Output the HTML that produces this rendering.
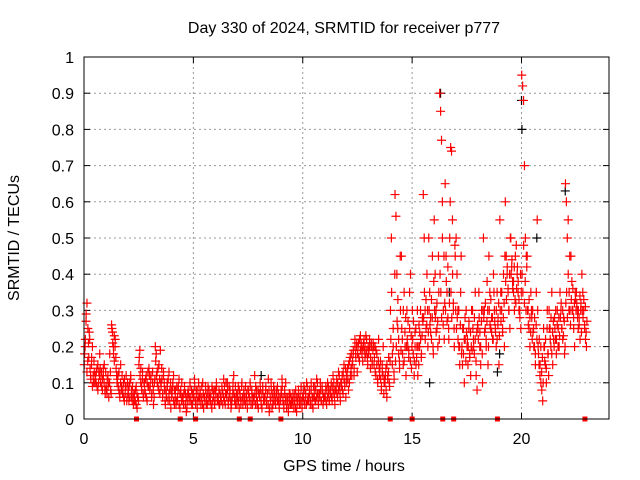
<!DOCTYPE html>
<html><head><meta charset="utf-8"><style>
body{margin:0;background:#fff;}
svg{display:block;font-family:"Liberation Sans",sans-serif;}
</style></head><body>
<svg id="chart" width="640" height="480">
<rect width="640" height="480" fill="#fff"/>
<text x="344" y="33" text-anchor="middle" font-size="16">Day 330 of 2024, SRMTID for receiver p777</text>
<text x="344" y="471" text-anchor="middle" font-size="16">GPS time / hours</text>
<text transform="translate(19,238) rotate(-90)" text-anchor="middle" font-size="16">SRMTID / TECUs</text>
<g id="grid"></g>
<g id="ticks"></g>
<g id="marks"></g>
<rect x="84" y="57" width="525" height="362" fill="none" stroke="#000" stroke-width="1"/>
</svg>
<script>
const xTicks=[0,5,10,15,20];
const yTicks=[0,0.1,0.2,0.3,0.4,0.5,0.6,0.7,0.8,0.9,1];
const yTickLabels=["0","0.1","0.2","0.3","0.4","0.5","0.6","0.7","0.8","0.9","1"];
const binHours=0.25;
const redBins=[
[.15,.2,.27,.32,.25,.17],[.22,.12,.15,.2,.1,.13],[.12,.1,.14,.08,.13,.18],[.1,.13,.08,.12,.15,.07],
[.09,.07,.12,.1,.18,.08],[.26,.24,.2,.16,.22,.14],[.1,.12,.08,.06,.15,.09],[.07,.1,.05,.09,.12,.06],
[.08,.05,.1,.12,.06,.09],[.04,.07,.05,.09,.03,.06],[.15,.19,.1,.08,.13,.06],[.1,.07,.12,.05,.09,.14],
[.08,.11,.06,.13,.04,.1],[.2,.18,.13,.09,.15,.07],[.1,.14,.06,.12,.08,.04],[.07,.1,.05,.13,.08,.03],
[.06,.09,.12,.04,.08,.05],[.05,.08,.11,.03,.07,.1],[.06,.04,.09,.07,.02,.05],[.08,.05,.1,.06,.04,.07],
[.07,.11,.05,.08,.03,.06],[.05,.08,.04,.06,.1,.03],[.06,.09,.04,.07,.05,.08],[.05,.07,.03,.08,.06,.04],
[.08,.1,.05,.06,.04,.07],[.06,.09,.04,.11,.05,.07],[.07,.1,.04,.06,.08,.03],[.05,.08,.12,.06,.04,.07],
[.06,.09,.03,.07,.05,.1],[.04,.07,.05,.09,.06,.03],[.08,.05,.1,.04,.07,.06],[.06,.12,.04,.08,.05,.03],
[.07,.1,.05,.03,.08,.06],[.05,.08,.04,.07,.11,.02],[.06,.1,.03,.07,.05,.08],[.04,.07,.09,.05,.03,.06],
[.08,.11,.05,.03,.07,.1],[.03,.05,.02,.07,.04,.06],[.04,.07,.03,.05,.08,.02],[.05,.08,.04,.06,.09,.03],
[.06,.09,.04,.07,.1,.05],[.05,.08,.04,.1,.06,.03],[.06,.09,.05,.11,.07,.04],[.07,.1,.05,.08,.04,.06],
[.06,.09,.04,.1,.07,.05],[.07,.1,.05,.12,.08,.04],[.08,.11,.06,.13,.09,.05],[.09,.12,.07,.15,.1,.06],
[.1,.14,.08,.16,.12,.18],[.15,.18,.12,.2,.17,.21],[.18,.21,.16,.23,.2,.19],[.2,.22,.17,.23,.19,.15],
[.18,.22,.14,.2,.16,.21],[.15,.2,.12,.18,.1,.22],[.12,.16,.08,.13,.2,.1],[.1,.14,.06,.12,.17,.09],
[.3,.5,.15,.2,.11,.62],[.56,.4,.25,.18,.14,.3],[.45,.22,.15,.35,.2,.12],[.3,.2,.17,.25,.4,.14],
[.3,.18,.12,.24,.15,.2],[.12,.15,.2,.22,.18,.28],[.62,.5,.3,.25,.4,.2],[.5,.35,.28,.22,.45,.18],
[.55,.4,.3,.25,.2,.35],[.9,.85,.77,.5,.3,.22],[.65,.45,.35,.28,.22,.5],[.75,.74,.55,.3,.2,.45],
[.5,.4,.3,.2,.15,.35],[.18,.15,.25,.1,.22,.3],[.2,.15,.25,.18,.12,.3],[.3,.22,.18,.35,.12,.08],
[.25,.35,.2,.15,.3,.1],[.5,.3,.25,.2,.38,.15],[.45,.35,.25,.28,.22,.4],[.3,.25,.2,.35,.28,.15],
[.55,.35,.3,.25,.4,.2],[.6,.45,.4,.35,.3,.25],[.5,.42,.38,.35,.3,.45],[.48,.4,.35,.3,.28,.25],
[.95,.92,.88,.7,.5,.45],[.45,.3,.25,.2,.35,.28],[.3,.25,.2,.15,.35,.55],[.2,.15,.12,.1,.08,.05],
[.25,.2,.15,.1,.3,.18],[.3,.25,.2,.35,.15,.22],[.28,.22,.18,.3,.25,.2],[.35,.3,.25,.22,.28,.18],
[.65,.6,.5,.4,.35,.3],[.45,.38,.3,.25,.2,.33],[.35,.3,.25,.28,.22,.32],[.4,.35,.3,.25,.22,.2]
];
const redBins2=[
[.18,.22,.29,.13,.16,.21,.24],[.14,.11,.17,.09,.12,.16,.1],[.11,.13,.09,.15,.1,.12,.14],[.12,.09,.11,.14,.1,.08,.13],
[.08,.11,.09,.06,.1,.13,.07],[.25,.21,.18,.23,.2,.17,.12],[.11,.09,.13,.07,.1,.08,.12],[.08,.06,.11,.07,.09,.05,.1],
[.07,.09,.06,.11,.08,.05,.07],[.06,.05,.08,.04,.07,.06,.05],[.17,.12,.14,.09,.11,.07,.1],[.08,.11,.06,.1,.13,.09,.12],
[.09,.12,.07,.1,.08,.06,.11],[.16,.12,.1,.14,.08,.11,.19],[.09,.11,.07,.13,.1,.05,.08],[.06,.09,.11,.07,.05,.1,.08],
[.07,.1,.05,.08,.06,.04,.09],[.06,.09,.04,.07,.08,.05,.06],[.05,.07,.08,.04,.06,.03,.07],[.07,.06,.09,.05,.08,.04,.06],
[.06,.09,.04,.07,.05,.08,.1],[.06,.07,.05,.09,.04,.07,.06],[.05,.08,.06,.04,.09,.07,.06],[.06,.04,.09,.05,.07,.08,.05],
[.07,.09,.06,.05,.08,.04,.06],[.05,.08,.07,.06,.09,.04,.1],[.06,.08,.05,.09,.07,.05,.04],[.06,.1,.07,.05,.09,.06,.04],
[.07,.05,.08,.06,.04,.09,.06],[.05,.08,.06,.04,.07,.05,.08],[.07,.06,.09,.05,.08,.04,.06],[.05,.07,.09,.06,.04,.08,.07],
[.06,.08,.04,.07,.09,.05,.06],[.06,.09,.05,.07,.04,.08,.03],[.05,.08,.06,.04,.09,.07,.05],[.06,.08,.05,.07,.04,.06,.05],
[.07,.09,.06,.04,.08,.05,.06],[.04,.06,.03,.05,.07,.04,.05],[.05,.06,.04,.07,.03,.06,.04],[.06,.07,.05,.04,.08,.05,.06],
[.07,.05,.08,.06,.04,.09,.06],[.06,.07,.05,.08,.04,.06,.09],[.07,.05,.08,.06,.1,.05,.07],[.06,.08,.05,.09,.07,.05,.06],
[.07,.05,.08,.06,.09,.05,.08],[.08,.06,.09,.07,.1,.06,.08],[.09,.07,.1,.08,.12,.07,.1],[.1,.08,.13,.11,.09,.14,.12],
[.13,.11,.15,.1,.17,.14,.12],[.16,.19,.14,.22,.18,.2,.13],[.2,.17,.22,.19,.21,.18,.16],[.21,.19,.2,.18,.22,.17,.2],
[.19,.2,.17,.21,.15,.19,.2],[.17,.13,.19,.15,.11,.16,.14],[.14,.11,.09,.15,.12,.07,.11],[.12,.08,.15,.11,.13,.1,.16],
[.22,.35,.18,.25,.13,.4,.16],[.2,.27,.33,.22,.16,.45,.19],[.25,.18,.3,.16,.24,.28,.2],[.22,.27,.19,.35,.16,.23,.2],
[.22,.27,.16,.2,.25,.17,.3],[.2,.26,.24,.3,.17,.23,.27],[.28,.35,.22,.33,.26,.3,.24],[.3,.26,.24,.33,.28,.2,.38],
[.3,.28,.24,.32,.27,.45,.22],[.4,.35,.28,.6,.26,.45,.32],[.3,.38,.27,.42,.25,.32,.6],[.35,.28,.4,.32,.25,.48,.3],
[.25,.28,.22,.3,.2,.26,.45],[.2,.25,.18,.22,.28,.16,.24],[.22,.2,.27,.17,.24,.2,.19],[.25,.2,.28,.22,.16,.24,.26],
[.22,.28,.24,.2,.27,.18,.3],[.28,.24,.32,.22,.27,.3,.2],[.3,.26,.33,.24,.28,.22,.35],[.27,.24,.3,.22,.26,.32,.23],
[.3,.27,.35,.24,.28,.32,.45],[.38,.33,.42,.36,.3,.4,.5],[.4,.44,.36,.38,.42,.33,.32],[.36,.42,.38,.33,.3,.4,.35],
[.4,.35,.48,.32,.38,.3,.42],[.3,.26,.33,.28,.24,.3,.22],[.24,.2,.28,.18,.26,.22,.3],[.18,.22,.15,.2,.13,.17,.1],
[.2,.16,.22,.14,.25,.18,.12],[.25,.22,.28,.18,.24,.27,.2],[.25,.3,.22,.26,.2,.28,.23],[.28,.32,.25,.3,.23,.27,.2],
[.32,.35,.28,.55,.3,.45,.26],[.33,.3,.36,.28,.32,.35,.3],[.32,.28,.3,.26,.34,.3,.24],[.3,.28,.33,.26,.31,.24,.27]
];
const blackTimes=[16.3,20.0,20.02,16.7,15.8,8.1,22.0,19.0,20.7,18.9];
const blackValues=[0.9,0.88,0.8,0.35,0.1,0.12,0.63,0.18,0.5,0.13];
const zeroTimes=[2.4,4.4,5.1,7.1,7.6,9.0,14.0,15.0,16.4,16.9,18.9,22.9];

const X0=84,X1=609,Y0=419,Y1=57;
const xs=h=>X0+(X1-X0)*h/24;
const ys=v=>Y0-(Y0-Y1)*v;
const NS="http://www.w3.org/2000/svg";
const grid=document.getElementById('grid'),ticks=document.getElementById('ticks'),marks=document.getElementById('marks');
function mk(tag,attrs,parent){const e=document.createElementNS(NS,tag);for(const k in attrs)e.setAttribute(k,attrs[k]);parent.appendChild(e);return e;}
yTicks.forEach((v,i)=>{
  const y=ys(v);
  if(v>0&&v<1){const g=mk('line',{x1:X0,x2:X1,y1:y,y2:y,stroke:'#999','stroke-dasharray':'2,3'},grid);
  
  }
  mk('line',{x1:X0,x2:X0+6,y1:y,y2:y,stroke:'#000'},ticks);
  mk('line',{x1:X1,x2:X1-6,y1:y,y2:y,stroke:'#000'},ticks);
  const t=mk('text',{x:X0-10,y:y+6,'text-anchor':'end','font-size':16},ticks);
  t.textContent=yTickLabels[i];
  
  
});
xTicks.forEach(h=>{
  const x=xs(h);
  if(h>0){const g=mk('line',{x1:x,x2:x,y1:Y0,y2:Y1,stroke:'#999','stroke-dasharray':'2,3'},grid);
  
  }
  mk('line',{x1:x,x2:x,y1:Y0,y2:Y0-6,stroke:'#000'},ticks);
  mk('line',{x1:x,x2:x,y1:Y1,y2:Y1+6,stroke:'#000'},ticks);
  const t=mk('text',{x:x,y:Y0+25,'text-anchor':'middle','font-size':16},ticks);
  t.textContent=String(h);
  
  
});
function plus(h,v,color,name){
  const x=xs(h),y=ys(v);
  const p=mk('path',{d:`M${x-4.5},${y}h9M${x},${y-4.5}v9`,stroke:color,'stroke-width':1.2,fill:'none'},marks);
  
  
}
blackTimes.forEach((h,i)=>plus(h,blackValues[i],'#000','black-point'));
redBins.forEach((vals,i)=>{
  vals.forEach((v,j)=>plus(i*binHours+(j+0.25)*binHours/vals.length,v,'#f00','red-point'));
});
redBins2.forEach((vals,i)=>{
  vals.forEach((v,j)=>plus(i*binHours+(j+0.75)*binHours/vals.length,v,'#f00','red-point'));
});
zeroTimes.forEach(h=>{
  const r=mk('rect',{x:xs(h)-2.5,y:Y0-2.5,width:5,height:5,fill:'#f00'},marks);
  
  
});
</script>
</body></html>
